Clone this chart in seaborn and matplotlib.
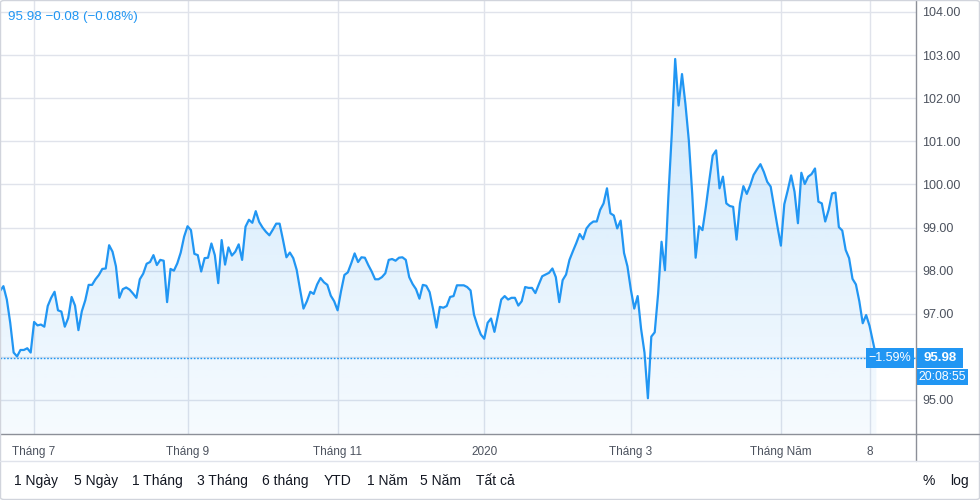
import numpy as np
import pandas as pd
import matplotlib
matplotlib.use("Agg")
import matplotlib.pyplot as plt
import matplotlib.transforms as mtransforms
from matplotlib import font_manager
from matplotlib.colors import to_rgb
from matplotlib.patches import Rectangle, FancyBboxPatch
from matplotlib.lines import Line2D
import seaborn as sns

# daily closes (business days) starting on this date
start_date = "2019-06-17"
closes = [
    97.53, 97.64, 97.33, 96.79, 96.10, 96.01, 96.16, 96.16, 96.20, 96.10,
    96.81, 96.73, 96.75, 96.70, 97.18, 97.37, 97.51, 97.08, 97.05, 96.70,
    96.90, 97.39, 97.19, 96.62, 97.06, 97.31, 97.67, 97.67, 97.80, 97.90,
    98.04, 98.05, 98.59, 98.44, 98.10, 97.37, 97.57, 97.61, 97.56, 97.47,
    97.37, 97.80, 97.93, 98.16, 98.20, 98.36, 98.13, 98.25, 98.23, 97.27,
    98.04, 98.00, 98.17, 98.42, 98.79, 99.03, 98.94, 98.39, 98.36, 97.98,
    98.29, 98.30, 98.63, 98.36, 97.71, 98.71, 98.14, 98.54, 98.35, 98.44,
    98.61, 98.25, 99.02, 99.18, 99.11, 99.38, 99.13, 99.00, 98.90, 98.82,
    98.95, 99.09, 99.09, 98.71, 98.31, 98.42, 98.29, 98.02, 97.56, 97.12,
    97.29, 97.51, 97.46, 97.68, 97.83, 97.73, 97.67, 97.42, 97.29, 97.08,
    97.52, 97.90, 97.96, 98.17, 98.40, 98.20, 98.31, 98.30, 98.13, 97.98,
    97.80, 97.80, 97.85, 97.94, 98.25, 98.27, 98.23, 98.30, 98.31, 98.25,
    97.85, 97.69, 97.57, 97.35, 97.67, 97.65, 97.50, 97.11, 96.68, 97.16,
    97.14, 97.18, 97.39, 97.41, 97.66, 97.66, 97.66, 97.62, 97.54, 96.98,
    96.73, 96.52, 96.42, 96.79, 96.89, 96.58, 96.95, 97.33, 97.41, 97.33,
    97.37, 97.37, 97.19, 97.29, 97.62, 97.60, 97.60, 97.48, 97.68, 97.87,
    97.91, 97.95, 98.05, 97.85, 97.27, 97.78, 97.91, 98.25, 98.45, 98.64,
    98.85, 98.73, 98.98, 99.08, 99.14, 99.14, 99.41, 99.56, 99.91, 99.33,
    99.28, 98.98, 99.16, 98.41, 98.10, 97.56, 97.12, 97.41, 96.65, 96.10,
    95.04, 96.47, 96.57, 97.47, 98.67, 98.01, 99.71, 101.17, 102.91, 101.83,
    102.56, 101.87, 101.02, 99.78, 98.30, 99.03, 98.94, 99.48, 100.09, 100.67,
    100.79, 99.91, 100.18, 99.56, 99.50, 99.48, 98.72, 99.56, 99.96, 99.78,
    99.98, 100.22, 100.35, 100.47, 100.29, 100.06, 99.95, 99.48, 99.02, 98.58,
    99.54, 99.86, 100.21, 99.83, 99.10, 100.27, 100.01, 100.18, 100.24, 100.37,
    99.60, 99.56, 99.14, 99.41, 99.79, 99.81, 99.01, 98.93, 98.48, 98.29,
    97.81, 97.68, 97.29, 96.78, 96.97, 96.72, 96.35, 95.98,
]
day_change = -0.08
day_change_pct = -0.08
last_time = "20:08:55"

tick_dates = ["2019-07-01", "2019-09-02", "2019-11-01", "2020-01-01",
              "2020-03-02", "2020-05-01", "2020-06-08"]
tick_labels = ["Tháng 7", "Tháng 9", "Tháng 11", "2020", "Tháng 3", "Tháng Năm", "8"]
price_levels = [95, 96, 97, 98, 99, 100, 101, 102, 103, 104]
range_buttons = ["1 Ngày", "5 Ngày", "1 Tháng", "3 Tháng", "6 tháng",
                 "YTD", "1 Năm", "5 Năm", "Tất cả"]
button_x = [14, 74, 132, 197, 262, 324, 367, 420, 476]  # px, layout only

BLUE = "#2196f3"
GRID = "#e0e3eb"
AXIS = "#8c8f98"
LABEL = "#4c525e"

sns.set_style("white")
installed = {f.name for f in font_manager.fontManager.ttflist}
narrow = "Liberation Sans Narrow" if "Liberation Sans Narrow" in installed else "Liberation Sans"
plt.rcParams["font.family"] = ["Liberation Sans", "DejaVu Sans"]

W, H = 980, 500
fig = plt.figure(figsize=(9.8, 5.0), dpi=100)
ax_w, ax_h, ax_bottom = 916, 434, 66
ax = fig.add_axes([0, ax_bottom / H, ax_w / W, ax_h / H])

n = len(closes)
df = pd.DataFrame({
    "date": pd.bdate_range(start_date, periods=n),
    "bar": np.arange(n),
    "close": closes,
})
tick_pos = np.busday_count(start_date, tick_dates)

y_lo, y_hi = 94.211, 104.278
x_lo, x_hi = 0, ax_w / 3.41

# gradient area under the line
grad = np.linspace(0.22, 0.04, 256)
rgba = np.zeros((256, 1, 4))
rgba[..., :3] = to_rgb(BLUE)
rgba[:, 0, 3] = grad
im = ax.imshow(rgba, extent=[df["bar"].iloc[0], df["bar"].iloc[-1], y_lo, max(closes)],
               aspect="auto", origin="upper", interpolation="bilinear", zorder=1)
poly = ax.fill_between(df["bar"], df["close"], y_lo, facecolor="none", edgecolor="none")
im.set_clip_path(poly.get_paths()[0], transform=ax.transData)

sns.lineplot(data=df, x="bar", y="close", ax=ax, color=BLUE, linewidth=1.6, zorder=3)

last = closes[-1]
ax.axhline(last, color=BLUE, linewidth=1.0, linestyle=(0, (1.2, 1.2)), zorder=2)

ax.set_xlim(x_lo, x_hi)
ax.set_ylim(y_lo, y_hi)
ax.set_xlabel("")
ax.set_ylabel("")

px_y = (y_hi - y_lo) / ax_h

ax.set_xticks(tick_pos)
ax.set_xticklabels(tick_labels, fontfamily=narrow, fontsize=8.5, color=LABEL)
ax.set_yticks(price_levels)
# the level hidden behind the last-price tag gets no label
ax.set_yticklabels(["" if abs(v - last) < 12 * px_y else f"{v:.2f}" for v in price_levels],
                   fontsize=9, color=LABEL)
ax.yaxis.tick_right()
ax.tick_params(axis="y", length=0, pad=4.5)
ax.tick_params(axis="x", length=3.5, width=1, color=AXIS, pad=5)
ax.grid(True, color=GRID, linewidth=1, zorder=0)
ax.set_axisbelow(True)

for side in ["top", "left"]:
    ax.spines[side].set_visible(False)
for side in ["right", "bottom"]:
    ax.spines[side].set_color(AXIS)
    ax.spines[side].set_linewidth(1)

# price tags
blend = mtransforms.blended_transform_factory(ax.transAxes, ax.transData)


def tag(x0, x1, y_center, h, text, size=9, weight="normal"):
    ax.add_patch(Rectangle((x0 / ax_w, y_center - h / 2 * px_y), (x1 - x0) / ax_w, h * px_y,
                           transform=blend, facecolor=BLUE, edgecolor="none",
                           clip_on=False, zorder=6))
    ax.text((x0 + x1) / 2 / ax_w, y_center, text, transform=blend, ha="center", va="center",
            color="white", fontsize=size, fontweight=weight, clip_on=False, zorder=7)


pct = (last / closes[0] - 1) * 100
tag(866, 914, last, 20, f"{pct:.2f}%".replace("-", "\u2212"), size=9)
tag(917, 963, last, 20, f"{last:.2f}", size=9.5, weight="bold")
tag(917, 968, last - 19 * px_y, 16, last_time, size=8.8)

# header
header = f"{last:.2f} {day_change:+.2f} ({day_change_pct:+.2f}%)".replace("-", "\u2212")
fig.text(8 / W, 1 - 17 / H, header, ha="left", va="center", color=BLUE, fontsize=9.6)

# frame lines outside the plot
fig.add_artist(Line2D([ax_w / W, 1], [ax_bottom / H] * 2, color=AXIS, linewidth=1))
fig.add_artist(Line2D([ax_w / W] * 2, [ax_bottom / H, 39 / H], color=AXIS, linewidth=1))
fig.add_artist(Line2D([0, 1], [39 / H] * 2, color=GRID, linewidth=1))
fig.add_artist(FancyBboxPatch((0.5 / W, 0.5 / H), 1 - 1 / W, 1 - 1 / H,
                              boxstyle="round,pad=0,rounding_size=0.004",
                              transform=fig.transFigure, fill=False,
                              edgecolor="#d1d4dc", linewidth=1))

# range buttons
for label, bx in zip(range_buttons, button_x):
    fig.text(bx / W, 1 - 481 / H, label, ha="left", va="center",
             fontfamily=narrow, fontsize=10, color="#131722")
fig.text(922 / W, 1 - 481 / H, "%", ha="left", va="center",
         fontfamily=narrow, fontsize=10, color="#131722")
fig.text(950 / W, 1 - 481 / H, "log", ha="left", va="center",
         fontfamily=narrow, fontsize=10, color="#131722")

fig.savefig("out.png", dpi=100)
